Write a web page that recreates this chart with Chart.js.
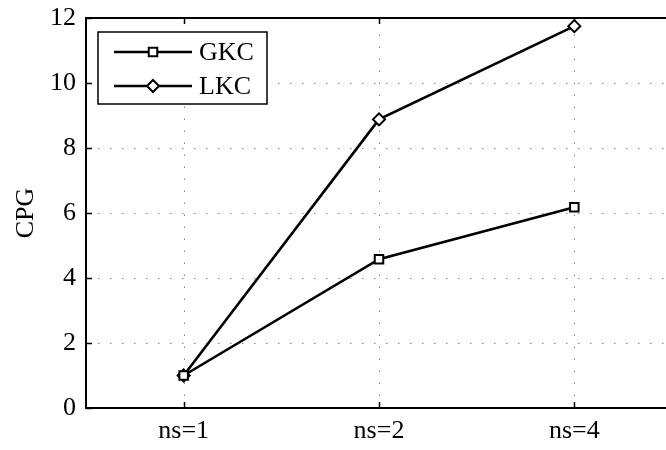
<!DOCTYPE html>
<html>
<head>
<meta charset="utf-8">
<script src="https://cdn.jsdelivr.net/npm/chart.js@4"></script>
<style>
  html, body { margin: 0; padding: 0; background: #fff; overflow: hidden; }
  #wrap { width: 680px; height: 450px; }
</style>
</head>
<body>
<div id="wrap"><canvas id="cpg" width="680" height="450"></canvas></div>
<script>
const categories = ['ns=1', 'ns=2', 'ns=4'];
const gkc = [1.0, 4.58, 6.18];
const lkc = [1.0, 8.88, 11.75];
const yTicks = [0, 2, 4, 6, 8, 10, 12];

const FONT = '"Liberation Serif", "Times New Roman", serif';
const FSIZE = 26;

// dotted grid, box and inward tick marks (matlab look)
const axesBox = {
  id: 'axesBox',
  beforeDatasetsDraw(chart) {
    const { ctx, chartArea: a, scales: { x, y } } = chart;
    ctx.save();
    ctx.strokeStyle = '#888';
    ctx.lineWidth = 1;
    ctx.setLineDash([1.5, 10.5]);
    categories.forEach((c, i) => {
      const px = Math.round(x.getPixelForValue(i)) + 0.5;
      ctx.beginPath(); ctx.moveTo(px, a.bottom); ctx.lineTo(px, a.top); ctx.stroke();
    });
    yTicks.slice(1, -1).forEach(v => {
      const py = Math.round(y.getPixelForValue(v)) + 0.5;
      ctx.beginPath(); ctx.moveTo(a.left, py); ctx.lineTo(a.right, py); ctx.stroke();
    });
    ctx.setLineDash([]);
    ctx.strokeStyle = '#000';
    ctx.lineWidth = 1.5;
    categories.forEach((c, i) => {
      const px = Math.round(x.getPixelForValue(i)) + 0.5;
      ctx.beginPath(); ctx.moveTo(px, a.bottom); ctx.lineTo(px, a.bottom - 6); ctx.stroke();
      ctx.beginPath(); ctx.moveTo(px, a.top); ctx.lineTo(px, a.top + 6); ctx.stroke();
    });
    yTicks.forEach(v => {
      const py = Math.round(y.getPixelForValue(v)) + 0.5;
      ctx.beginPath(); ctx.moveTo(a.left, py); ctx.lineTo(a.left + 6, py); ctx.stroke();
      ctx.beginPath(); ctx.moveTo(a.right, py); ctx.lineTo(a.right - 6, py); ctx.stroke();
    });
    ctx.lineWidth = 2;
    ctx.strokeRect(a.left, a.top, a.right - a.left, a.bottom - a.top);
    ctx.restore();
  }
};

const boxLegend = {
  id: 'boxLegend',
  afterDraw(chart) {
    const { ctx } = chart;
    const bx = 98, by = 32, bw = 169, bh = 72;
    ctx.save();
    ctx.fillStyle = '#fff';
    ctx.fillRect(bx, by, bw, bh);
    ctx.strokeStyle = '#000';
    ctx.lineWidth = 1.5;
    ctx.strokeRect(bx, by, bw, bh);
    chart.data.datasets.forEach((ds, i) => {
      const ly = 52 + i * 34;
      ctx.lineWidth = 2.5;
      ctx.strokeStyle = '#000';
      ctx.beginPath(); ctx.moveTo(114, ly); ctx.lineTo(192, ly); ctx.stroke();
      ctx.fillStyle = '#fff';
      ctx.lineWidth = 2;
      Chart.helpers.drawPoint(ctx, {
        pointStyle: ds.pointStyle, radius: ds.pointRadius, borderWidth: 2
      }, 153, ly);
      ctx.fillStyle = '#000';
      ctx.font = FSIZE + 'px ' + FONT;
      ctx.textBaseline = 'middle';
      ctx.textAlign = 'left';
      ctx.fillText(ds.label, 199, ly + 1);
    });
    ctx.restore();
  }
};

function series(label, data, style) {
  return {
    label, data,
    borderColor: '#000',
    borderWidth: 2.6,
    backgroundColor: '#fff',
    pointStyle: style,
    pointRadius: 6,
    pointHoverRadius: 6,
    pointBorderWidth: 2,
    pointBackgroundColor: '#fff',
    pointBorderColor: '#000',
    tension: 0
  };
}

new Chart(document.getElementById('cpg'), {
  type: 'line',
  data: {
    labels: categories,
    datasets: [series('GKC', gkc, 'rect'), series('LKC', lkc, 'rectRot')]
  },
  options: {
    responsive: false,
    devicePixelRatio: 1,
    animation: false,
    layout: { padding: { top: 18, right: 6, left: 0, bottom: 0 } },
    plugins: { legend: { display: false }, tooltip: { enabled: false } },
    scales: {
      x: {
        type: 'category',
        offset: true,
        grid: { display: false, drawTicks: false },
        border: { display: false },
        ticks: { color: '#000', font: { family: FONT, size: FSIZE }, padding: 8, maxRotation: 0 },
        afterFit: s => { s.height = 42; s.paddingLeft = 0; s.paddingRight = 0; }
      },
      y: {
        min: 0, max: 12,
        grid: { display: false, drawTicks: false },
        border: { display: false },
        afterBuildTicks: s => { s.ticks = yTicks.map(v => ({ value: v })); },
        ticks: { color: '#000', font: { family: FONT, size: FSIZE }, padding: 10 },
        title: {
          display: true, text: 'CPG', color: '#000',
          font: { family: FONT, size: FSIZE }, padding: { top: 11, bottom: 0 }
        },
        afterFit: s => { s.width = 86; s.paddingTop = 0; s.paddingBottom = 0; }
      }
    }
  },
  plugins: [axesBox, boxLegend]
});
</script>
</body>
</html>
